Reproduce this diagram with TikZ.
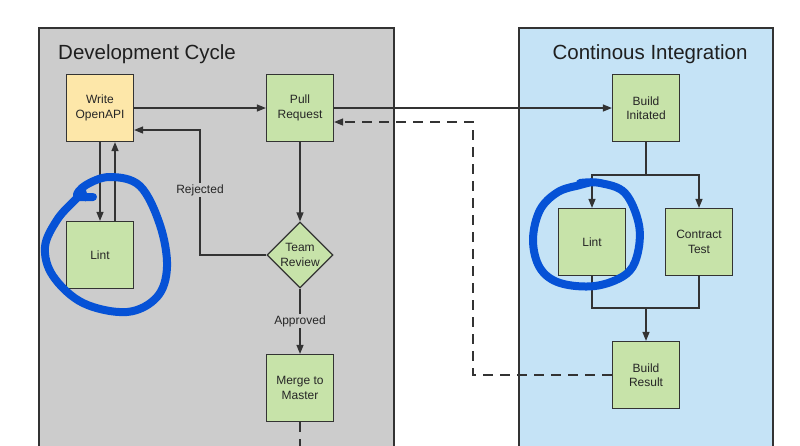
\documentclass[tikz,border=0pt]{standalone}
\usepackage{fontspec}
\setmainfont{Liberation Sans}
\usetikzlibrary{shapes.geometric,arrows.meta}
\definecolor{devgray}{HTML}{CCCCCC}
\definecolor{cibg}{HTML}{C5E3F6}
\definecolor{boxgreen}{HTML}{C7E3A9}
\definecolor{boxyellow}{HTML}{FDE7A9}
\definecolor{inkline}{HTML}{333333}
\definecolor{loopblue}{HTML}{0652D6}
\tikzset{
  container/.style={draw=inkline, line width=1.2pt},
  stepbox/.style={draw=inkline, line width=1.2pt, fill=boxgreen, minimum width=67pt, minimum height=67pt, inner sep=0pt, align=center, font=\fontsize{12}{14.3}\selectfont, text=black!85},
  decision/.style={diamond, draw=inkline, line width=1.2pt, fill=boxgreen, minimum width=66pt, minimum height=66pt, aspect=1, inner sep=0pt, align=center, font=\fontsize{12}{14.3}\selectfont, text=black!85},
  conn/.style={draw=inkline, line width=1.2pt},
  arr/.style={conn, -{Triangle[length=9pt,width=7pt]}},
  dashline/.style={dash pattern=on 10pt off 7pt},
  lbl/.style={font=\fontsize{12}{14.3}\selectfont, text=black!85, fill=devgray, inner sep=1.5pt},
  title/.style={font=\fontsize{20.5}{24}\selectfont, text=black!88, inner sep=0pt},
  blueloop/.style={draw=loopblue, line width=8pt, line cap=round, line join=round},
}
\begin{document}
\begin{tikzpicture}[x=1pt,y=-1pt]
\useasboundingbox (0,0) rectangle (800,445);
\clip (0,0) rectangle (800,445);
\fill[white] (0,0) rectangle (800,445);
% containers
\draw[container, fill=devgray] (39,28) rectangle (394,460);
\draw[container, fill=cibg] (519,28) rectangle (773,460);
\node[title, anchor=base west] (devtitle) at (58,59) {Development Cycle};
\node[title, anchor=base] (cititle) at (650,59) {Continous Integration};
% nodes
\node[stepbox, fill=boxyellow] (write) at (100,108) {Write\\OpenAPI};
\node[stepbox] (pr) at (300,108) {Pull\\Request};
\node[stepbox] (bi) at (646,108) {Build\\Initated};
\node[stepbox] (lint1) at (100,255) {Lint};
\node[decision] (tr) at (300,255) {Team\\Review};
\node[stepbox] (merge) at (300,388) {Merge to\\Master};
\node[stepbox] (lint2) at (592,242) {Lint};
\node[stepbox] (ct) at (699,242) {Contract\\Test};
\node[stepbox] (br) at (646,375) {Build\\Result};
% coordinates
\coordinate (rj) at (200,130);
\coordinate (dc) at (473,122);
\coordinate (mend) at (300,450);
\coordinate (split) at (646,175);
\coordinate (join) at (646,308);
% connectors
\draw[arr] (write.east) -- (pr.west);
\draw[arr] (pr.east) -- (bi.west);
\draw[arr] (write.south) -- (lint1.north);
\draw[arr] ([xshift=15pt]lint1.north) -- ([xshift=15pt]write.south);
\draw[arr] (tr.west) -| node[lbl, pos=0.76] {Rejected} (rj) -- (rj -| write.east);
\draw[arr] (pr.south) -- (tr.north);
\draw[arr] (tr.south) -- node[lbl] {Approved} (merge.north);
\draw[conn, dashline] (merge.south) -- (mend);
\draw[arr, dashline] (br.west) -- (br.west -| dc) -- (dc) -- (dc -| pr.east);
\draw[conn] (bi.south) -- (split);
\draw[arr] (split) -| (lint2.north);
\draw[arr] (split) -| (ct.north);
\draw[conn] (lint2.south) |- (join);
\draw[conn] (ct.south) |- (join);
\draw[arr] (join) -- (br.north);
% hand-drawn blue loops
\draw[blueloop] plot[smooth, tension=0.6] coordinates {(93,197) (77,196) (86,185) (110,177) (140,186) (160,225) (167,267) (157,297) (127,312) (83,303) (53,276) (45,247) (57,220) (74,201) (83,193)};
\draw[blueloop] plot[smooth, tension=0.6] coordinates {(580,183) (600,183) (625,193) (639,225) (637,256) (625,275) (595,286) (560,283) (540,268) (533,240) (540,210) (558,192) (580,185) (592,182)};
\end{tikzpicture}
\end{document}
